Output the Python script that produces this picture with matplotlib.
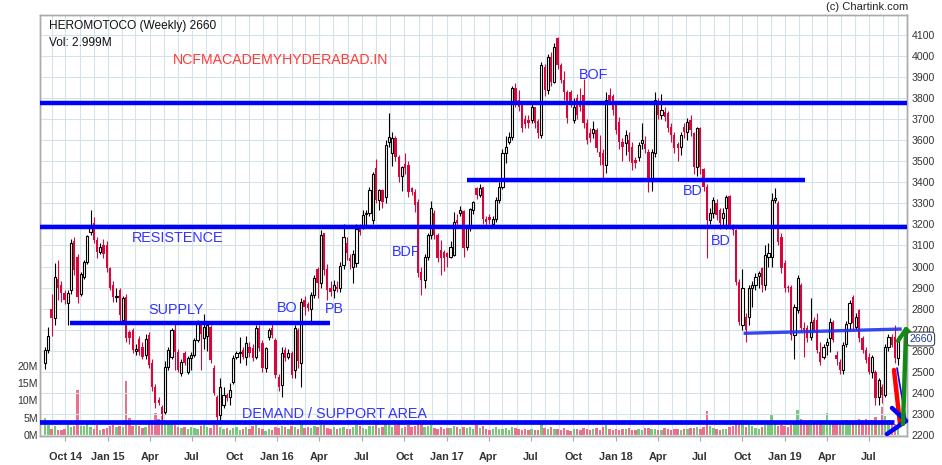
import numpy as np
import pandas as pd
import matplotlib
matplotlib.use('Agg')
import matplotlib.pyplot as plt
import matplotlib.dates as mdates
from matplotlib.lines import Line2D
from matplotlib.ticker import FuncFormatter, FixedLocator

plt.rcParams['font.family'] = ['Liberation Sans', 'DejaVu Sans']

# ---------------- data (weekly candles) ----------------
START = '2014-08-18'

opens = [
    2540, 2604, 2800, 2754, 2940, 2912, 2873, 2825, 2890, 3123,
    3047, 2870, 2949, 3023, 3166, 3205, 3126, 3070, 3100, 3102,
    2991, 2912, 2855, 2889, 2746, 2857, 2690, 2700, 2600, 2654,
    2620, 2580, 2675, 2540, 2430, 2366, 2335, 2310, 2525, 2572,
    2700, 2596, 2493, 2587, 2500, 2565, 2580, 2650, 2730, 2660,
    2670, 2714, 2516, 2380, 2295, 2342, 2390, 2382, 2453, 2572,
    2588, 2604, 2572, 2620, 2612, 2572, 2706, 2635, 2520, 2667,
    2706, 2650, 2477, 2438, 2604, 2570, 2588, 2508, 2698, 2543,
    2840, 2820, 2800, 2865, 2987, 2920, 3158, 2990, 2897, 2890,
    2905, 2897, 3007, 3110, 3042, 2999, 3015, 3190, 3190, 3250,
    3253, 3221, 3466, 3316, 3363, 3332, 3593, 3538, 3613, 3522,
    3430, 3487, 3482, 3371, 3356, 3308, 2976, 2936, 3044, 3150,
    3256, 3150, 3079, 3071, 3066, 3044, 3055, 3221, 3253, 3264,
    3094, 3181, 3269, 3371, 3340, 3379, 3226, 3237, 3202, 3226,
    3316, 3379, 3538, 3593, 3617, 3846, 3791, 3767, 3699, 3696,
    3696, 3756, 3693, 3625, 3950, 3838, 3997, 3878, 4084, 3957,
    3886, 3830, 3830, 3696, 3799, 3775, 3815, 3680, 3633, 3633,
    3649, 3545, 3541, 3482, 3815, 3810, 3767, 3688, 3593, 3585,
    3601, 3569, 3506, 3522, 3585, 3580, 3545, 3411, 3538, 3775,
    3720, 3735, 3728, 3664, 3625, 3580, 3569, 3664, 3641, 3696,
    3633, 3474, 3656, 3462, 3379, 3221, 3253, 3300, 3269, 3229,
    3277, 3335, 3189, 3173, 2928, 2722, 2760, 2762, 2897, 2912,
    2955, 2992, 2912, 3047, 3047, 3316, 3300, 3142, 3015, 2904,
    2904, 2675, 2794, 2912, 2706, 2706, 2667, 2746, 2746, 2596,
    2572, 2627, 2659, 2738, 2580, 2545, 2509, 2630, 2730, 2856,
    2714, 2793, 2659, 2604, 2572, 2500, 2500, 2382, 2430, 2390,
    2620, 2667, 2667, 2564,
]
highs = [
    2620, 2715, 2870, 3015, 3030, 2930, 2890, 2890, 3130, 3140,
    3060, 2975, 3030, 3150, 3270, 3235, 3140, 3110, 3130, 3120,
    3000, 2930, 2900, 2900, 2860, 2870, 2700, 2710, 2630, 2670,
    2640, 2680, 2690, 2560, 2440, 2380, 2340, 2550, 2620, 2710,
    2730, 2610, 2560, 2600, 2575, 2595, 2660, 2745, 2740, 2775,
    2730, 2720, 2530, 2390, 2470, 2430, 2400, 2445, 2580, 2600,
    2665, 2620, 2670, 2640, 2630, 2720, 2720, 2650, 2620, 2710,
    2730, 2660, 2490, 2620, 2620, 2610, 2600, 2720, 2710, 2850,
    2860, 2830, 2880, 2960, 3000, 3175, 3160, 3010, 2930, 2935,
    2930, 3020, 3200, 3140, 3060, 3080, 3200, 3200, 3270, 3270,
    3380, 3450, 3510, 3370, 3370, 3600, 3730, 3640, 3620, 3530,
    3480, 3540, 3500, 3380, 3370, 3320, 3000, 3060, 3160, 3310,
    3270, 3160, 3126, 3080, 3070, 3120, 3261, 3250, 3290, 3270,
    3190, 3280, 3310, 3380, 3390, 3380, 3240, 3250, 3240, 3330,
    3400, 3560, 3620, 3640, 3860, 3870, 3840, 3780, 3720, 3720,
    3770, 3760, 3700, 3970, 3960, 4010, 4020, 4060, 4090, 3965,
    3930, 3840, 3840, 3800, 3820, 3850, 3890, 3700, 3660, 3690,
    3660, 3625, 3560, 3830, 3850, 3820, 3780, 3710, 3610, 3650,
    3640, 3590, 3520, 3590, 3680, 3620, 3560, 3560, 3830, 3800,
    3820, 3760, 3740, 3680, 3640, 3593, 3640, 3680, 3705, 3720,
    3640, 3665, 3665, 3470, 3390, 3280, 3330, 3320, 3280, 3280,
    3340, 3340, 3200, 3180, 2940, 2990, 2780, 2910, 2930, 2970,
    2980, 3000, 3100, 3110, 3348, 3375, 3310, 3160, 3030, 2910,
    2910, 2820, 2960, 2920, 2738, 2720, 2850, 2760, 2780, 2640,
    2630, 2660, 2755, 2745, 2600, 2560, 2640, 2740, 2840, 2865,
    2780, 2800, 2670, 2620, 2590, 2580, 2510, 2470, 2440, 2630,
    2680, 2680, 2720, 2670,
]
lows = [
    2512, 2590, 2670, 2720, 2840, 2830, 2820, 2720, 2870, 2960,
    2825, 2860, 2940, 3010, 3150, 3110, 3040, 3060, 3040, 2975,
    2890, 2830, 2830, 2740, 2730, 2640, 2630, 2590, 2580, 2580,
    2560, 2560, 2520, 2410, 2330, 2340, 2262, 2300, 2510, 2560,
    2510, 2500, 2480, 2530, 2490, 2510, 2570, 2640, 2510, 2610,
    2600, 2540, 2390, 2260, 2270, 2330, 2360, 2340, 2440, 2560,
    2540, 2560, 2530, 2570, 2550, 2560, 2600, 2500, 2500, 2650,
    2660, 2470, 2410, 2380, 2550, 2560, 2470, 2470, 2520, 2430,
    2770, 2790, 2740, 2850, 2850, 2900, 2960, 2840, 2860, 2850,
    2880, 2880, 2990, 3030, 2990, 2920, 3000, 3150, 3180, 3190,
    3240, 3200, 3300, 3270, 3280, 3300, 3570, 3480, 3500, 3400,
    3360, 3440, 3330, 3340, 3260, 2950, 2863, 2900, 3030, 3130,
    3130, 3020, 2960, 2980, 3000, 3040, 3050, 3190, 3240, 3044,
    3080, 3170, 3250, 3320, 3330, 3200, 3190, 3200, 3195, 3210,
    3300, 3370, 3490, 3580, 3600, 3760, 3740, 3640, 3660, 3660,
    3680, 3660, 3610, 3610, 3810, 3820, 3860, 3870, 3940, 3870,
    3790, 3680, 3760, 3680, 3700, 3740, 3660, 3580, 3590, 3610,
    3545, 3482, 3419, 3443, 3770, 3720, 3630, 3560, 3500, 3530,
    3500, 3460, 3470, 3500, 3560, 3540, 3355, 3360, 3520, 3700,
    3700, 3690, 3640, 3590, 3540, 3500, 3530, 3610, 3600, 3620,
    3440, 3430, 3440, 3360, 3040, 3200, 3230, 3220, 3180, 3190,
    3180, 3180, 3150, 2910, 2720, 2700, 2643, 2720, 2810, 2890,
    2900, 2880, 2890, 3000, 3000, 3300, 3100, 2970, 2880, 2880,
    2650, 2560, 2780, 2690, 2570, 2640, 2650, 2690, 2590, 2530,
    2560, 2580, 2595, 2640, 2530, 2490, 2490, 2620, 2700, 2700,
    2700, 2640, 2590, 2540, 2490, 2470, 2340, 2340, 2350, 2380,
    2600, 2620, 2540, 2530,
]
closes = [
    2604, 2670, 2754, 2949, 2897, 2873, 2841, 2873, 3113, 2984,
    2857, 2965, 3023, 3145, 3182, 3126, 3070, 3095, 3060, 2991,
    2897, 2857, 2862, 2770, 2849, 2659, 2659, 2604, 2606, 2596,
    2572, 2654, 2530, 2430, 2350, 2350, 2300, 2525, 2604, 2700,
    2596, 2509, 2548, 2540, 2564, 2580, 2650, 2730, 2680, 2715,
    2720, 2555, 2400, 2287, 2430, 2390, 2374, 2414, 2564, 2588,
    2592, 2572, 2635, 2588, 2564, 2706, 2612, 2516, 2612, 2698,
    2675, 2485, 2430, 2588, 2564, 2590, 2485, 2706, 2553, 2833,
    2810, 2805, 2865, 2947, 2920, 3148, 2983, 2890, 2880, 2912,
    2895, 3003, 3142, 3063, 3028, 3060, 3177, 3166, 3245, 3256,
    3363, 3442, 3316, 3363, 3308, 3577, 3617, 3610, 3522, 3427,
    3474, 3466, 3356, 3356, 3292, 2968, 2936, 3044, 3150, 3276,
    3150, 3039, 3039, 3039, 3044, 3094, 3213, 3205, 3269, 3086,
    3181, 3272, 3308, 3340, 3371, 3226, 3213, 3221, 3226, 3316,
    3379, 3538, 3569, 3617, 3846, 3783, 3759, 3656, 3677, 3680,
    3756, 3680, 3633, 3957, 3838, 3997, 3878, 4044, 3957, 3886,
    3830, 3704, 3783, 3759, 3720, 3759, 3680, 3601, 3609, 3652,
    3561, 3522, 3482, 3791, 3783, 3743, 3649, 3593, 3569, 3625,
    3545, 3490, 3490, 3577, 3601, 3560, 3411, 3545, 3791, 3720,
    3743, 3712, 3656, 3625, 3561, 3561, 3625, 3641, 3688, 3649,
    3474, 3656, 3474, 3379, 3221, 3253, 3316, 3245, 3205, 3253,
    3332, 3197, 3173, 2928, 2738, 2897, 2699, 2897, 2912, 2952,
    2968, 2912, 3055, 3063, 3316, 3324, 3118, 2991, 2897, 2897,
    2675, 2810, 2944, 2706, 2699, 2659, 2738, 2699, 2604, 2548,
    2620, 2643, 2738, 2651, 2560, 2509, 2627, 2725, 2826, 2730,
    2762, 2659, 2604, 2556, 2500, 2572, 2374, 2461, 2390, 2620,
    2667, 2627, 2564, 2660,
]
volume_m = [
    5.0, 2.8, 1.6, 2.5, 1.5, 1.3, 1.8, 2.8, 2.4, 2.6,
    13.0, 2.6, 2.7, 3.1, 2.2, 1.6, 2.8, 1.4, 1.6, 2.0,
    2.5, 2.8, 2.2, 2.6, 2.3, 15.7, 4.9, 2.5, 3.0, 2.6,
    2.0, 2.3, 3.8, 4.3, 6.3, 4.6, 5.5, 4.2, 3.8, 4.0,
    3.0, 2.4, 2.0, 2.2, 1.8, 2.2, 1.9, 1.6, 2.6, 3.0,
    2.4, 2.0, 3.0, 3.4, 2.3, 1.8, 1.9, 1.5, 1.9, 2.2,
    1.4, 1.8, 2.4, 1.6, 2.6, 3.0, 2.0, 1.6, 1.2, 1.8,
    1.5, 2.3, 1.9, 2.5, 2.2, 1.8, 2.6, 2.2, 1.7, 3.2,
    2.0, 2.2, 1.9, 2.6, 2.4, 2.8, 3.0, 2.0, 1.8, 2.4,
    1.6, 2.0, 2.3, 1.8, 1.7, 2.2, 3.0, 2.6, 2.0, 1.6,
    2.5, 2.6, 3.2, 2.0, 2.2, 3.4, 2.8, 2.4, 2.9, 3.1,
    2.0, 2.2, 3.0, 2.4, 2.6, 3.8, 3.2, 2.2, 2.6, 2.8,
    1.9, 1.8, 2.2, 1.6, 1.9, 2.0, 2.6, 2.2, 1.8, 2.4,
    2.0, 2.4, 1.8, 2.8, 2.0, 2.6, 1.8, 1.5, 1.7, 2.2,
    1.6, 1.6, 1.9, 1.4, 2.4, 2.0, 1.7, 1.5, 1.6, 1.3,
    1.7, 1.5, 1.4, 3.4, 2.0, 1.8, 2.4, 1.7, 1.6, 1.3,
    1.9, 1.5, 1.2, 1.6, 1.8, 1.3, 2.0, 1.7, 1.4, 1.6,
    1.9, 1.5, 2.2, 2.8, 1.6, 1.5, 1.7, 1.4, 1.8, 1.6,
    1.9, 1.5, 1.3, 1.6, 1.5, 1.9, 2.1, 1.7, 1.8, 1.4,
    1.5, 1.9, 1.6, 1.3, 1.6, 1.8, 1.4, 1.7, 1.6, 1.9,
    2.0, 2.2, 1.8, 2.4, 7.0, 2.5, 1.9, 1.6, 1.4, 1.8,
    1.6, 2.3, 2.6, 3.3, 4.2, 3.6, 2.4, 3.4, 2.5, 1.9,
    1.6, 2.3, 2.8, 3.6, 6.0, 3.4, 2.7, 2.9, 2.6, 2.3,
    2.8, 3.2, 7.2, 4.5, 4.0, 3.6, 4.2, 3.1, 3.5, 4.4,
    3.0, 6.5, 3.8, 3.2, 4.0, 2.9, 3.5, 4.4, 3.6, 4.1,
    3.1, 4.6, 3.9, 4.5, 3.7, 4.4, 5.1, 3.6, 8.2, 5.6,
    4.3, 3.4, 3.2, 3.0,
]
volume_ticks = [0, 5, 10, 15, 20]
price_ticks = list(range(2200, 4101, 100))

# trend / zone lines drawn on the chart
level_top = 3778
level_resistance = 3189
level_bd = 3410
level_supply = 2733
level_demand = 2263
bd_span = ['2017-02-14', '2019-02-13']
supply_span = ['2014-10-10', '2016-04-24']
demand_span = ['2014-08-01', '2019-08-23']
slant_dates = ['2018-10-07', '2019-09-06']
slant_prices = [2683, 2703]

# ---------------- figure ----------------
W, H = 942, 465
fig = plt.figure(figsize=(W / 100, H / 100), dpi=100)
fig.patch.set_facecolor('white')
L_, R_, B_, T_ = 40, 907, 436, 15
axv = fig.add_axes([L_ / W, 1 - B_ / H, (R_ - L_) / W, (B_ - T_) / H])
axp = axv.twinx()

dates = pd.date_range(START, periods=len(closes), freq='7D')
x = mdates.date2num(dates)
o = np.array(opens, float); c = np.array(closes, float)
h = np.array(highs, float); l = np.array(lows, float)
v = np.array(volume_m, float)
up = c >= o

GREEN_V = '#78c878'
PINK_V = '#e8728c'
RED = '#d7063b'
GRID = '#d4e3ea'
BLUE = '#0000ff'

# volume
axv.bar(x, v, width=5.2, color=np.where(up, GREEN_V, PINK_V), linewidth=0, zorder=2)
axv.set_ylim(-0.3, 121.7)
axv.yaxis.set_major_locator(FixedLocator(volume_ticks))
axv.yaxis.set_major_formatter(FuncFormatter(lambda val, pos: f'{int(val)}M'))
axv.tick_params(axis='y', length=0, pad=1.5, labelsize=7.6, labelcolor='#333333')

# x axis
xmin = mdates.date2num(pd.Timestamp('2014-08-07'))
xmax = mdates.date2num(pd.Timestamp('2019-09-21'))
axv.set_xlim(xmin, xmax)
axv.xaxis.set_major_locator(mdates.MonthLocator(bymonth=[1, 4, 7, 10]))
axv.xaxis.set_minor_locator(mdates.MonthLocator())


def xfmt(val, pos):
    d = mdates.num2date(val)
    if d.month == 1 or d.year == 2014:
        return d.strftime('%b %y')
    return d.strftime('%b')


axv.xaxis.set_major_formatter(FuncFormatter(xfmt))
axv.tick_params(axis='x', which='major', direction='out', length=3.5, width=0.8,
                color='#aaaaaa', pad=8, labelsize=7.8, labelcolor='#333333')
axv.tick_params(axis='x', which='minor', length=0)
for lab in axv.get_xticklabels():
    lab.set_fontweight('bold')
axv.set_axisbelow(True)
axv.grid(True, axis='x', which='both', color=GRID, lw=0.8)

# price axis
axp.set_ylim(2195, 4195)
axp.yaxis.set_major_locator(FixedLocator(price_ticks))
axp.tick_params(axis='y', length=0, pad=3.5, labelsize=7.6, labelcolor='#333333')
axp.set_axisbelow(True)
axp.grid(True, axis='y', color=GRID, lw=0.8)

for ax in (axv, axp):
    for s in ax.spines.values():
        s.set_color('#aaaaaa')
        s.set_linewidth(1.0)

# candles
axp.vlines(x, l, h, colors=np.where(up, 'black', RED), lw=0.8, zorder=3)
axp.bar(x[up], np.maximum(c[up] - o[up], 1.0), bottom=o[up], width=4.8,
        facecolor='white', edgecolor='black', linewidth=0.8, zorder=4)
axp.bar(x[~up], np.maximum(o[~up] - c[~up], 1.0), bottom=c[~up], width=4.8,
        color=RED, linewidth=0, zorder=4)

# drawn lines
axp.axhline(level_top, color=BLUE, lw=3.2, zorder=6)
axp.axhline(level_resistance, color=BLUE, lw=3.2, zorder=6)
d2n = lambda lst: mdates.date2num(pd.to_datetime(lst))
axp.plot(d2n(bd_span), [level_bd, level_bd], color=BLUE, lw=3.2, zorder=6, solid_capstyle='butt')
axp.plot(d2n(supply_span), [level_supply, level_supply], color=BLUE, lw=3.2, zorder=6, solid_capstyle='butt')
axp.plot(d2n(demand_span), [level_demand, level_demand], color=BLUE, lw=3.4, zorder=6, solid_capstyle='butt')
axp.plot(d2n(slant_dates), slant_prices, color='#2233ee', lw=2.4, alpha=0.9, zorder=6)


# hand-drawn arrows at right edge (figure pixel positions)
def fp(px, py):
    return px / W, 1 - py / H


def seg(p0, p1, color, lw):
    (x0, y0), (x1, y1) = fp(*p0), fp(*p1)
    fig.add_artist(Line2D([x0, x1], [y0, y1], color=color, lw=lw,
                          solid_capstyle='round', zorder=10))


seg((897, 368), (906, 421), BLUE, 1.2)
seg((894, 370), (900, 424), '#ff0000', 3.2)
seg((892, 408), (906, 421), BLUE, 3.2)
seg((887, 434), (906, 421), BLUE, 3.2)
seg((903, 424), (906, 333), '#138a13', 3.2)
seg((898, 341), (906, 329), '#138a13', 3.0)
seg((906, 329), (915, 338), '#138a13', 3.0)


def ftext(px, py, s, **kw):
    fx, fy = fp(px, py)
    fig.text(fx, fy, s, va='center', zorder=12, **kw)


ftext(49, 26, 'HEROMOTOCO (Weekly) 2660', fontsize=8.6, color='#111111')
ftext(49, 43, 'Vol: 2.999M', fontsize=8.6, color='#111111')
ftext(908, 7, '(c) Chartink.com', fontsize=8.0, color='#222222', ha='right')
ftext(173, 60, 'NCFMACADEMYHYDERABAD.IN', fontsize=10.2, color='#ff3a3a')

LB = '#3434ff'
for (px, py, s) in [(579, 75, 'BOF'), (392, 252, 'BDF'), (132, 238, 'RESISTENCE'),
                    (148, 310, 'SUPPLY'), (277, 308, 'BO'), (325, 309, 'PB'),
                    (683, 191, 'BD'), (711, 241, 'BD'), (242, 414, 'DEMAND / SUPPORT AREA')]:
    ftext(px, py, s, fontsize=10.4, color=LB)

fx, fy = fp(921, 339)
fig.text(fx, fy, '2660', ha='center', va='center', fontsize=7.6, color='#1a3c9c', zorder=12,
         bbox=dict(boxstyle='round,pad=0.18,rounding_size=0.3', fc='white', ec='#444444', lw=0.8))

fig.savefig('out.png', dpi=100)
